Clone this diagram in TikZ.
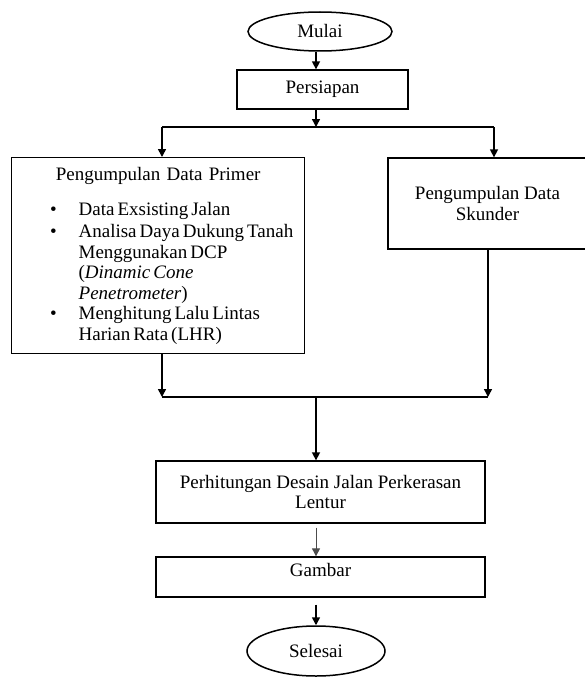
\documentclass[tikz,border=0pt]{standalone}
\usepackage{fontspec}
\setmainfont{Liberation Serif}
\usepackage{tikz}
\usetikzlibrary{arrows.meta,positioning}
\usetikzlibrary{shapes.geometric}
\tikzstyle{arrow} = [line width=1.5pt,-{Triangle[length=8pt,width=8pt]}]
\tikzstyle{garis} = [line width=1.5pt]
\tikzstyle{kotak} = [rectangle, draw, line width=1.3pt, inner sep=0pt]
\tikzstyle{oval} = [ellipse, draw, line width=1.5pt, inner sep=0pt]
\newcommand{\butir}[1]{\par\noindent\makebox[67pt][l]{\hspace{38.5pt}\textbullet}\parbox[t]{240pt}{\raggedright\spaceskip=0.16em #1}\par}

\begin{document}
\begin{tikzpicture}[x=1pt,y=-1pt,font=\fontsize{19}{20.5}\selectfont]
            \useasboundingbox (0,0) rectangle (585,677);
            \node[oval, minimum width=144pt, minimum height=39pt] (mulai) at (320,31.5) {Mulai};
            \node[kotak, minimum width=171pt, minimum height=39pt] (persiapan) at (322.5,89.5) {Persiapan};
            \node[kotak, anchor=north west, minimum width=293pt, minimum height=196pt, text width=293pt] (primer) at (11,157) {%
                {\centering Pengumpulan Data Primer\par}
                \vspace{14.5pt}
                \butir{Data Exsisting Jalan}
                \vspace{2pt}
                \butir{Analisa Daya Dukung Tanah\\ Menggunakan DCP\\ (\textit{Dinamic Cone}\\ \textit{Penetrometer})}
                \vspace{2pt}
                \butir{Menghitung Lalu Lintas\\ Harian Rata (LHR)}};
            \node[kotak, minimum width=199pt, minimum height=91pt, align=center] (skunder) at (487.5,203.5) {Pengumpulan Data\\Skunder};
            \node[kotak, minimum width=329pt, minimum height=62pt, align=center] (desain) at (320.5,492) {Perhitungan Desain Jalan Perkerasan\\Lentur};
            \node[kotak, minimum width=329pt, minimum height=40pt, text depth=14pt] (gambar) at (320.5,577) {Gambar};
            \node[oval, minimum width=138pt, minimum height=50pt] (selesai) at (316,651) {Selesai};
            % titik cabang
            \coordinate (pisah) at (316,127);
            \coordinate (pisahkiri) at (162,127);
            \coordinate (pisahkanan) at (494,127);
            \coordinate (gabung) at (316,397);
            \coordinate (gabungkiri) at (162,397);
            \coordinate (gabungkanan) at (488,397);
            \draw[arrow] (mulai.south -| pisah) -- (persiapan.north -| pisah);
            \draw[arrow] (persiapan.south -| pisah) -- (pisah);
            \draw[garis] (pisahkiri) -- (pisahkanan);
            \draw[arrow] (pisahkiri) -- (pisahkiri |- primer.north);
            \draw[arrow] (pisahkanan) -- (pisahkanan |- skunder.north);
            \draw[arrow] (gabungkiri |- primer.south) -- (gabungkiri);
            \draw[arrow] (gabungkanan |- skunder.south) -- (gabungkanan);
            \draw[garis] (gabungkiri) -- (gabungkanan);
            \draw[arrow] (gabung) -- (gabung |- desain.north);
            \draw[arrow, line width=0.9pt, gray!60!black, shorten <=4pt] (desain.south -| gabung) -- (gambar.north -| gabung);
            \draw[arrow, shorten <=7pt] (gambar.south -| gabung) -- (selesai.north -| gabung);
        \end{tikzpicture}
\end{document}
